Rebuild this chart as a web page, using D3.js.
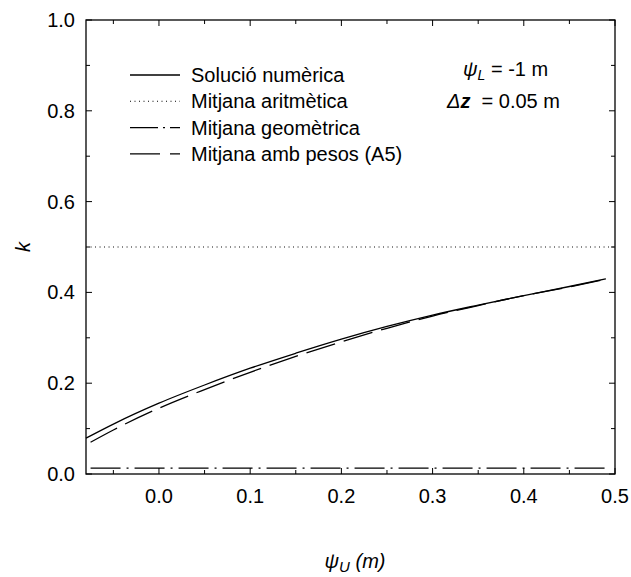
<!DOCTYPE html>
<html>
<head>
<meta charset="utf-8">
<script src="https://cdn.jsdelivr.net/npm/d3@7"></script>
<style>
body { margin: 0; background: #fff; }
text { font-family: "Liberation Sans", Arial, sans-serif; fill: #000; white-space: pre; }
</style>
</head>
<body>
<div id="chart"></div>
<script>
// values
var psiU = [-0.08, -0.05, 0.0, 0.05, 0.1, 0.15, 0.2, 0.25, 0.3, 0.35, 0.4, 0.45, 0.49];
var kNumeric = [0.079, 0.11, 0.156, 0.196, 0.233, 0.266, 0.297, 0.325, 0.35, 0.372, 0.393, 0.413, 0.43];

var psiWeighted = [-0.075, -0.05, 0.0, 0.05, 0.1, 0.15, 0.2, 0.25, 0.3, 0.35, 0.4, 0.45, 0.49];
var kWeighted = [0.07, 0.097, 0.145, 0.186, 0.224, 0.259, 0.291, 0.321, 0.348, 0.371, 0.393, 0.412, 0.429];

var psiArith = [-0.075, 0.5];
var kArith = [0.5, 0.5];

var psiGeom = [-0.075, 0.49];
var kGeom = [0.013, 0.013];

var xTicks = [0.0, 0.1, 0.2, 0.3, 0.4, 0.5];
var yTicks = [0.0, 0.2, 0.4, 0.6, 0.8, 1.0];

var legendNames = ["Solució numèrica", "Mitjana aritmètica", "Mitjana geomètrica", "Mitjana amb pesos (A5)"];
var dashes = ["none", "1,3.5", "30,6,2,6", "30,9"];

var width = 631, height = 577;
var margin = {top: 20, right: 16, bottom: 103, left: 86};
var chartWidth = width - margin.left - margin.right;
var chartHeight = height - margin.top - margin.bottom;

var svg = d3.select("#chart").append("svg")
    .attr("width", width)
    .attr("height", height)
  .append("g")
    .attr("transform", `translate(${margin.left}, ${margin.top})`);

var xScale = d3.scaleLinear().domain([-0.08, 0.5]).range([0, chartWidth]);
var yScale = d3.scaleLinear().domain([0, 1]).range([chartHeight, 0]);

var minorX = d3.range(-0.05, 0.5, 0.1);
var minorY = d3.range(0.1, 1.0, 0.2);

function ticksOn(g, scale, vals, len, dir) {
  // ticks point into the frame from each side
  var horiz = (dir == "bottom" || dir == "top");
  g.selectAll(null).data(vals).enter().append("line")
    .attr("x1", d => horiz ? scale(d) : (dir == "left" ? 0 : chartWidth))
    .attr("x2", d => horiz ? scale(d) : (dir == "left" ? len : chartWidth - len))
    .attr("y1", d => !horiz ? scale(d) : (dir == "bottom" ? chartHeight : 0))
    .attr("y2", d => !horiz ? scale(d) : (dir == "bottom" ? chartHeight - len : len))
    .attr("stroke", "#000")
    .attr("stroke-width", 1);
}

var axes = svg.append("g").attr("class", "axis");
ticksOn(axes, xScale, xTicks, 6, "bottom");
ticksOn(axes, xScale, minorX, 4, "bottom");
ticksOn(axes, xScale, xTicks, 6, "top");
ticksOn(axes, xScale, minorX, 4, "top");
ticksOn(axes, yScale, yTicks, 6, "left");
ticksOn(axes, yScale, minorY, 4, "left");
ticksOn(axes, yScale, yTicks, 6, "right");
ticksOn(axes, yScale, minorY, 4, "right");

axes.append("rect")
    .attr("width", chartWidth)
    .attr("height", chartHeight)
    .attr("fill", "none")
    .attr("stroke", "#000")
    .attr("stroke-width", 1.3);

var fmt = d3.format(".1f");

axes.selectAll(".xlab").data(xTicks).enter().append("text")
    .attr("x", d => xScale(d))
    .attr("y", chartHeight + 29)
    .attr("text-anchor", "middle")
    .style("font-size", "20px")
    .text(fmt);

axes.selectAll(".ylab").data(yTicks).enter().append("text")
    .attr("x", -11)
    .attr("y", d => yScale(d) + 7)
    .attr("text-anchor", "end")
    .style("font-size", "20px")
    .text(fmt);

// axis titles
var xt = svg.append("text")
    .attr("x", 269)
    .attr("y", chartHeight + 94)
    .attr("text-anchor", "middle")
    .style("font-size", "20px")
    .style("font-style", "italic");
xt.append("tspan").text("ψ");
xt.append("tspan").attr("dy", 4).style("font-size", "15px").text("U");
xt.append("tspan").attr("dy", -4).text(" (m)");

svg.append("text")
    .attr("transform", `translate(${-56}, ${yScale(0.5)}) rotate(-90)`)
    .attr("text-anchor", "middle")
    .style("font-size", "20px")
    .style("font-style", "italic")
    .text("k");

// series
var line = d3.line().x(d => xScale(d[0])).y(d => yScale(d[1])).curve(d3.curveMonotoneX);

var series = [
  d3.zip(psiU, kNumeric),
  d3.zip(psiArith, kArith),
  d3.zip(psiGeom, kGeom),
  d3.zip(psiWeighted, kWeighted)
];

svg.selectAll(".series").data(series).enter().append("path")
    .attr("class", "series")
    .attr("d", line)
    .attr("fill", "none")
    .attr("stroke", "#000")
    .attr("stroke-width", (d, i) => i == 1 ? 1.1 : 1.3)
    .attr("stroke-dasharray", (d, i) => dashes[i]);

// legend
var legend = svg.append("g").attr("transform", "translate(44, 55)");
var rows = legend.selectAll("g").data(legendNames).enter().append("g")
    .attr("transform", (d, i) => `translate(0, ${i * 26.3})`);
rows.append("line")
    .attr("x1", 0).attr("x2", 50)
    .attr("stroke", "#000")
    .attr("stroke-width", (d, i) => i == 1 ? 1.1 : 1.3)
    .attr("stroke-dasharray", (d, i) => i == 2 ? "28,5,2,5" : i == 3 ? "30,10" : dashes[i]);
rows.append("text")
    .attr("x", 61)
    .attr("y", 7)
    .style("font-size", "20px")
    .text(d => d);

// annotation
var a1 = svg.append("text")
    .attr("x", 377)
    .attr("y", 56)
    .style("font-size", "20px");
a1.append("tspan").style("font-style", "italic").text("ψ");
a1.append("tspan").attr("dy", 4).style("font-size", "14px").style("font-style", "italic").text("L");
a1.append("tspan").attr("dy", -4).text(" = -1 m");

var a2 = svg.append("text")
    .attr("x", 361)
    .attr("y", 88)
    .style("font-size", "20px");
a2.append("tspan").style("font-style", "italic").text("Δ");
a2.append("tspan").style("font-style", "italic").style("font-weight", "bold").text("z");
a2.append("tspan").text("  = 0.05 m");
</script>
</body>
</html>
